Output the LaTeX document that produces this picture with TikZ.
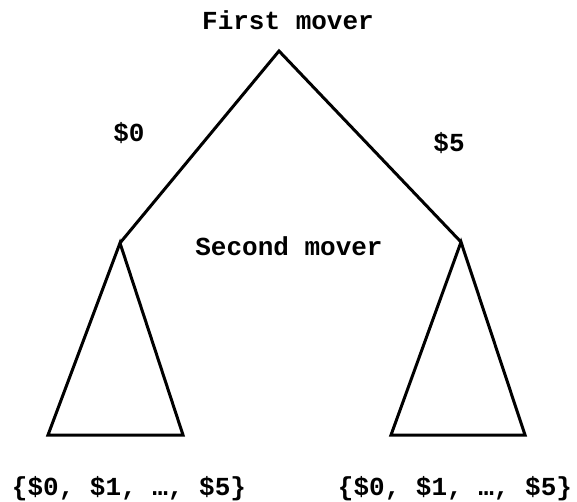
\documentclass[tikz,border=0pt]{standalone}
\usepackage{fontspec}
\setmonofont{Liberation Mono}
\usepackage{tikz}
\usetikzlibrary{positioning}
\tikzset{
  % Branch line
  branch/.style={line width=3pt, line join=miter, draw=black},
  % Label text, placed by its baseline
  lbl/.style={font=\ttfamily\bfseries\fontsize{26}{30}\selectfont, inner sep=0pt, anchor=base}
}
\begin{document}
\begin{tikzpicture}[x=1pt, y=-1pt]
  \useasboundingbox (0,0) rectangle (577,502);
  \coordinate (root)  at (279,51);
  \coordinate (left)  at (120,243);
  \coordinate (right) at (461,242);
  \coordinate (lbase) at (48,435);
  \coordinate (lend)  at (183,435);
  \coordinate (rbase) at (391,435);
  \coordinate (rend)  at (525,435);

  \node[lbl] (first)  at (288,30)  {First mover};
  \node[lbl] (zero)   at (129,142) {\$0};
  \node[lbl] (five)   at (449,152) {\$5};
  \node[lbl] (second) at (289,255) {Second mover};
  \node[lbl] (lset)   at (129,495) {\{\$0, \$1, …, \$5\}};
  \node[lbl] (rset)   at (455,495) {\{\$0, \$1, …, \$5\}};

  \draw[branch] (left) -- (root) -- (right);
  \draw[branch] (left) -- (lbase) -- (lend) -- cycle;
  \draw[branch] (right) -- (rbase) -- (rend) -- cycle;
\end{tikzpicture}
\end{document}
